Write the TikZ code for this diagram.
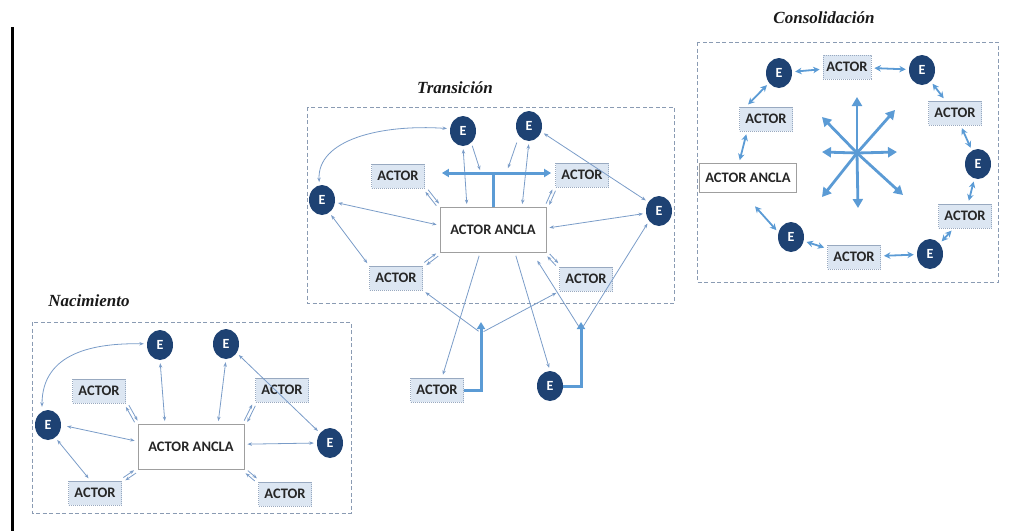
\documentclass[tikz,border=0pt]{standalone}
\usepackage{fontspec}
\setmainfont{Liberation Serif}
\newfontfamily\boxfont{Carlito}
\usetikzlibrary{shapes.geometric,arrows.meta,calc}

\definecolor{entfill}{HTML}{1E4273}
\definecolor{actfill}{HTML}{DCE6F2}
\definecolor{actdraw}{HTML}{98A9C0}
\definecolor{connc}{HTML}{7A9CC8}
\definecolor{strong}{HTML}{5B9BD5}
\definecolor{framec}{HTML}{8A9BB3}

\tikzset{
  actor/.style={rectangle, fill=actfill, draw=actdraw, line width=0.8pt,
    dash pattern=on 1.2pt off 0.8pt, minimum width=53pt, minimum height=24pt,
    inner sep=0pt, font=\boxfont\bfseries\fontsize{14.5}{15}\selectfont, text=black!85},
  anchorbox/.style={rectangle, fill=white, draw=gray!75, line width=0.9pt,
    minimum width=106pt, minimum height=45pt, inner sep=0pt,
    font=\boxfont\bfseries\fontsize{14.5}{15}\selectfont, text=black!85},
  ent/.style={ellipse, fill=entfill, minimum width=26pt, minimum height=30pt,
    inner sep=0pt, text=white, font=\boxfont\bfseries\fontsize{14}{14}\selectfont},
  panel/.style={draw=framec, line width=0.9pt, dash pattern=on 4pt off 2.5pt},
  stage/.style={font=\bfseries\itshape\fontsize{17}{18}\selectfont, text=black!90},
  conn/.style={draw=connc, line width=0.8pt, shorten <=3pt, shorten >=3pt},
  strongline/.style={draw=strong, line width=3pt},
  strongarrow/.style={draw=strong, line width=3pt, >={Triangle[length=7pt,width=8pt]}},
  ring/.style={draw=strong, line width=1.8pt, shorten <=3pt, shorten >=3pt,
    {Stealth[length=6.5pt,width=6.5pt]}-{Stealth[length=6.5pt,width=6.5pt]}},
  starr/.style={draw=strong, line width=2.8pt, -{Triangle[length=9pt,width=10pt]}}
}

% two short parallel arrows running in opposite directions
\newcommand\pairlink[2]{%
  \draw[conn,->] ($(#1)!1.7pt!90:(#2)$) -- ($(#2)!1.7pt!-90:(#1)$);
  \draw[conn,<-] ($(#1)!1.7pt!-90:(#2)$) -- ($(#2)!1.7pt!90:(#1)$);}

\begin{document}
\begin{tikzpicture}[x=1pt, y=-1pt, >={Stealth[length=4.5pt,width=3.4pt]}]
\useasboundingbox (0,0) rectangle (1033,531);

% vertical rule on the left
\draw[line width=3pt] (12,27) -- (12,531);

% ---------- panels and titles ----------
\draw[panel] (32,322) rectangle (351,513);
\node[stage] (lblN) at (89,301) {Nacimiento};
\draw[panel] (307,107) rectangle (674,303);
\node[stage] (lblT) at (455,88) {Transición};
\draw[panel] (697,42) rectangle (998,282);
\node[stage] (lblC) at (824,18) {Consolidación};

% ---------- Nacimiento ----------
\node[ent] (nE1) at (160,345) {E};
\node[ent] (nE2) at (226,344) {E};
\node[actor] (nA1) at (99,391) {ACTOR};
\node[actor] (nA2) at (282,390) {ACTOR};
\node[ent] (nE3) at (48,425) {E};
\node[anchorbox] (nAnc) at (191,447) {ACTOR ANCLA};
\node[ent] (nE4) at (330,443) {E};
\node[actor] (nA3) at (95,493) {ACTOR};
\node[actor] (nA4) at (285,494) {ACTOR};

\draw[conn,<->] (nE1.175) .. controls (95,343) and (42,352) .. ([xshift=-6]nE3.north);
\draw[conn,<->] (nE1.south) -- ([xshift=-26]nAnc.north);
\draw[conn,<->] (nE2.south) -- ([xshift=27]nAnc.north);
\draw[conn,<->] (nE2.-40) -- (nE4.135);
\draw[conn,<->,shorten <=6pt] (nE3.east) -- (nAnc.174);
\draw[conn,<->] (nAnc.3) -- (nE4.west);
\draw[conn,<->] (nE3.-60) -- (nA3.110);
\pairlink{nA1.south east}{nAnc.north west}
\pairlink{nA2.south west}{nAnc.north east}
\pairlink{nA3.north east}{nAnc.south west}
\pairlink{nA4.north west}{nAnc.south east}

% ---------- Transición ----------
\node[ent] (tE1) at (463,131) {E};
\node[ent] (tE2) at (529,126) {E};
\node[actor] (tA1) at (398,176) {ACTOR};
\node[actor] (tA2) at (582,175) {ACTOR};
\node[ent] (tE3) at (322,200) {E};
\node[ent] (tE4) at (659,211) {E};
\node[anchorbox] (tAnc) at (493,230) {ACTOR ANCLA};
\node[actor] (tA3) at (396,278) {ACTOR};
\node[actor] (tA4) at (586,279) {ACTOR};
\node[actor] (tA5) at (437,390) {ACTOR};
\node[ent] (tE5) at (550,386) {E};
\coordinate (tB1) at (481,173);
\coordinate (tB2) at (507,171);
\coordinate (tU1) at (481,322);
\coordinate (tU2) at (581,322);
\coordinate (tV1) at (481,333);
\coordinate (tV2) at (581,330);

\draw[conn,<->] (tE3.100) .. controls (317,140) and (380,124) .. (tE1.170);
\draw[conn,<->] (tE1.south) -- ([xshift=-26]tAnc.north);
\draw[conn,->] (tE1.-55) -- (tB1);
\draw[conn,->,shorten <=7pt] (tE2.-135) -- (tB2);
\draw[conn,<->] (tE2.south) -- ([xshift=29]tAnc.north);
\draw[conn,<->] (tE2.-25) -- (tE4.140);
\draw[conn,<->] (tE3.-10) -- (tAnc.175);
\draw[conn,<->] (tAnc.2) -- (tE4.190);
\draw[conn,<->] (tE3.-60) -- (tA3.north west);
\pairlink{tA1.south east}{tAnc.north west}
\pairlink{tA2.south west}{tAnc.north east}
\pairlink{tA3.north east}{tAnc.south west}
\pairlink{tA4.north west}{tAnc.south east}

\draw[strongline] (tAnc.north) -- ++(0,-35);
\draw[strongarrow,<->,shorten <=17pt,shorten >=4pt] ([yshift=3]tA1.east) -- ([yshift=2]tA2.west);

\draw[conn,->] ([xshift=-13]tAnc.south) -- ([xshift=5]tA5.north);
\draw[conn,->] ([xshift=22]tAnc.south) -- (tE5.north);
\draw[strongarrow,->] (tA5.east) -| (tU1);
\draw[strongarrow,->] (tE5.east) -| (tU2);
\draw[conn,->] (tV1) -- (tA3.south east);
\draw[conn,->] (tV1) -- (tA4.south west);
\draw[conn,->,shorten >=9pt] (tV2) -- ([xshift=-14]tAnc.south east);
\draw[conn,->] (tV2) -- (tE4.225);

% ---------- Consolidación ----------
\node[ent] (cE1) at (779,73) {E};
\node[actor,minimum width=48pt] (cA1) at (847,67) {ACTOR};
\node[ent] (cE2) at (922,70) {E};
\node[actor] (cA2) at (766,119) {ACTOR};
\node[actor] (cA3) at (955,113) {ACTOR};
\node[ent] (cE3) at (978,164) {E};
\node[anchorbox,minimum width=97pt,minimum height=29pt] (cAnc) at (748,178) {ACTOR ANCLA};
\node[actor] (cA4) at (965,216) {ACTOR};
\node[ent] (cE4) at (791,237) {E};
\node[actor] (cA5) at (854,257) {ACTOR};
\node[ent] (cE5) at (930,254) {E};

\draw[ring] (cE1) -- (cA1);
\draw[ring] (cA1) -- (cE2);
\draw[ring] (cE2) -- (cA3);
\draw[ring] (cA3) -- (cE3);
\draw[ring] (cE3) -- (cA4);
\draw[ring] (cA4) -- (cE5);
\draw[ring] (cE5) -- (cA5);
\draw[ring] (cA5) -- (cE4);
\draw[ring,shorten >=18pt] (cE4.160) -- ([xshift=-5]cAnc.south);
\draw[ring] ([xshift=-9]cAnc.north) -- ([xshift=-19]cA2.south);
\draw[ring] ([xshift=-20]cA2.north) -- (cE1.225);

\coordinate (cS) at (857,153);
\foreach \d in {(0,-56),(1,55),(-35,-1),(40,-1),(-35,-36),(38,-43),(-35,44),(46,42)}
  \draw[starr] (cS) -- ++\d;
\end{tikzpicture}
\end{document}
